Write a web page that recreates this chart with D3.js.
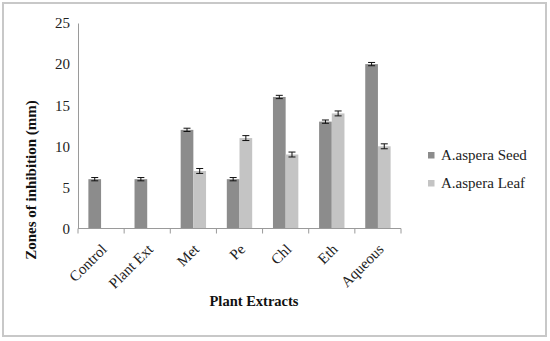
<!DOCTYPE html>
<html>
<head>
<meta charset="utf-8">
<script src="https://cdn.jsdelivr.net/npm/d3@7"></script>
<style>
  body { margin: 0; background: #fff; }
  svg { font-family: "Liberation Serif", "Times New Roman", serif; }
  .tick text { font-size: 15px; fill: #222; }
</style>
</head>
<body>
<svg id="chart" width="550" height="341"></svg>
<script>
// chart data
const categories = ["Control", "Plant Ext", "Met", "Pe", "Chl", "Eth", "Aqueous"];
const seriesNames = ["A.aspera Seed", "A.aspera Leaf"];
const seedValues = [6, 6, 12, 6, 16, 13, 20];
const leafValues = [null, null, 7, 11, 9, 14, 10];
const seedErrors = [0.2, 0.2, 0.2, 0.2, 0.2, 0.2, 0.2];
const leafErrors = [null, null, 0.3, 0.3, 0.3, 0.3, 0.3];
const yTicks = [0, 5, 10, 15, 20, 25];

const colors = ["#8c8c8c", "#c4c4c4"];

const svg = d3.select("#chart");

// outer frame
svg.append("rect")
    .attr("x", 3).attr("y", 3)
    .attr("width", 543).attr("height", 333)
    .attr("fill", "none")
    .attr("stroke", "#c8c8c8")
    .attr("stroke-width", 2);

const plotLeft = 78, plotRight = 401, plotTop = 23, plotBottom = 228.5;

// build rows for each category/series pair
const rows = [];
categories.forEach((c, i) => {
    rows.push({ cat: c, series: seriesNames[0], value: seedValues[i], err: seedErrors[i] });
    rows.push({ cat: c, series: seriesNames[1], value: leafValues[i], err: leafErrors[i] });
});
const bars = rows.filter(d => d.value !== null);

const x0 = d3.scaleBand()
    .domain(categories)
    .range([plotLeft, plotRight]);

const x1 = d3.scaleBand()
    .domain(seriesNames)
    .range([x0.bandwidth() * 0.225, x0.bandwidth() * 0.775]);

const y = d3.scaleLinear()
    .domain([0, 25])
    .range([plotBottom, plotTop]);

const color = d3.scaleOrdinal()
    .domain(seriesNames)
    .range(colors);

// y axis
const yAxis = svg.append("g")
    .attr("transform", `translate(${plotLeft},0)`)
    .call(d3.axisLeft(y).tickValues(yTicks).tickSize(0).tickPadding(8))
    .attr("font-family", null)
    .attr("font-size", null);
yAxis.select(".domain").attr("stroke", "#9a9a9a");

// bars
svg.append("g").selectAll("rect")
    .data(bars)
    .join("rect")
    .attr("x", d => x0(d.cat) + x1(d.series))
    .attr("y", d => y(d.value))
    .attr("width", x1.bandwidth())
    .attr("height", d => y(0) - y(d.value))
    .attr("fill", d => color(d.series));

// error bars
const errG = svg.append("g").selectAll("g")
    .data(bars)
    .join("g")
    .attr("transform", d => `translate(${x0(d.cat) + x1(d.series) + x1.bandwidth() / 2},0)`)
    .attr("stroke", "#111")
    .attr("stroke-width", 1);
errG.append("line")
    .attr("y1", d => y(d.value - d.err))
    .attr("y2", d => y(d.value + d.err));
errG.append("line")
    .attr("x1", -3.5).attr("x2", 3.5)
    .attr("y1", d => y(d.value + d.err))
    .attr("y2", d => y(d.value + d.err));
errG.append("line")
    .attr("x1", -3.5).attr("x2", 3.5)
    .attr("y1", d => y(d.value - d.err))
    .attr("y2", d => y(d.value - d.err));

// x axis with ticks at category boundaries
const xAxis = svg.append("g")
    .attr("transform", `translate(0,${plotBottom})`);
xAxis.append("line")
    .attr("x1", plotLeft).attr("x2", plotRight)
    .attr("stroke", "#9a9a9a");
xAxis.selectAll(".bound")
    .data(categories.concat(["end"]))
    .join("line")
    .attr("class", "bound")
    .attr("x1", (d, i) => plotLeft + i * x0.step())
    .attr("x2", (d, i) => plotLeft + i * x0.step())
    .attr("y1", 0).attr("y2", 5)
    .attr("stroke", "#9a9a9a");

// rotated category labels
xAxis.selectAll(".cat")
    .data(categories)
    .join("text")
    .attr("class", "cat")
    .attr("transform", d => `translate(${x0(d) + x0.bandwidth() / 2 + 3},${18}) rotate(-45)`)
    .attr("text-anchor", "end")
    .attr("dy", "0.35em")
    .style("font-size", "15px")
    .attr("fill", "#222")
    .text(d => d);

// axis titles
svg.append("text")
    .attr("transform", `translate(36,180) rotate(-90)`)
    .attr("text-anchor", "middle")
    .style("font-size", "15px")
    .style("font-weight", "bold")
    .attr("fill", "#111")
    .text("Zones of inhibition (mm)");

svg.append("text")
    .attr("x", 254).attr("y", 306)
    .attr("text-anchor", "middle")
    .style("font-size", "14.5px")
    .style("font-weight", "bold")
    .attr("fill", "#111")
    .text("Plant Extracts");

// legend
const legendItems = svg.append("g")
    .attr("transform", "translate(428,152)")
    .selectAll("g")
    .data(seriesNames)
    .join("g")
    .attr("transform", (d, i) => `translate(0,${i * 28})`);
legendItems.append("rect")
    .attr("width", 6.5).attr("height", 6.5)
    .attr("fill", d => color(d));
legendItems.append("text")
    .attr("x", 13).attr("y", 7.5)
    .style("font-size", "15px")
    .attr("fill", "#222")
    .text(d => d);
</script>
</body>
</html>
